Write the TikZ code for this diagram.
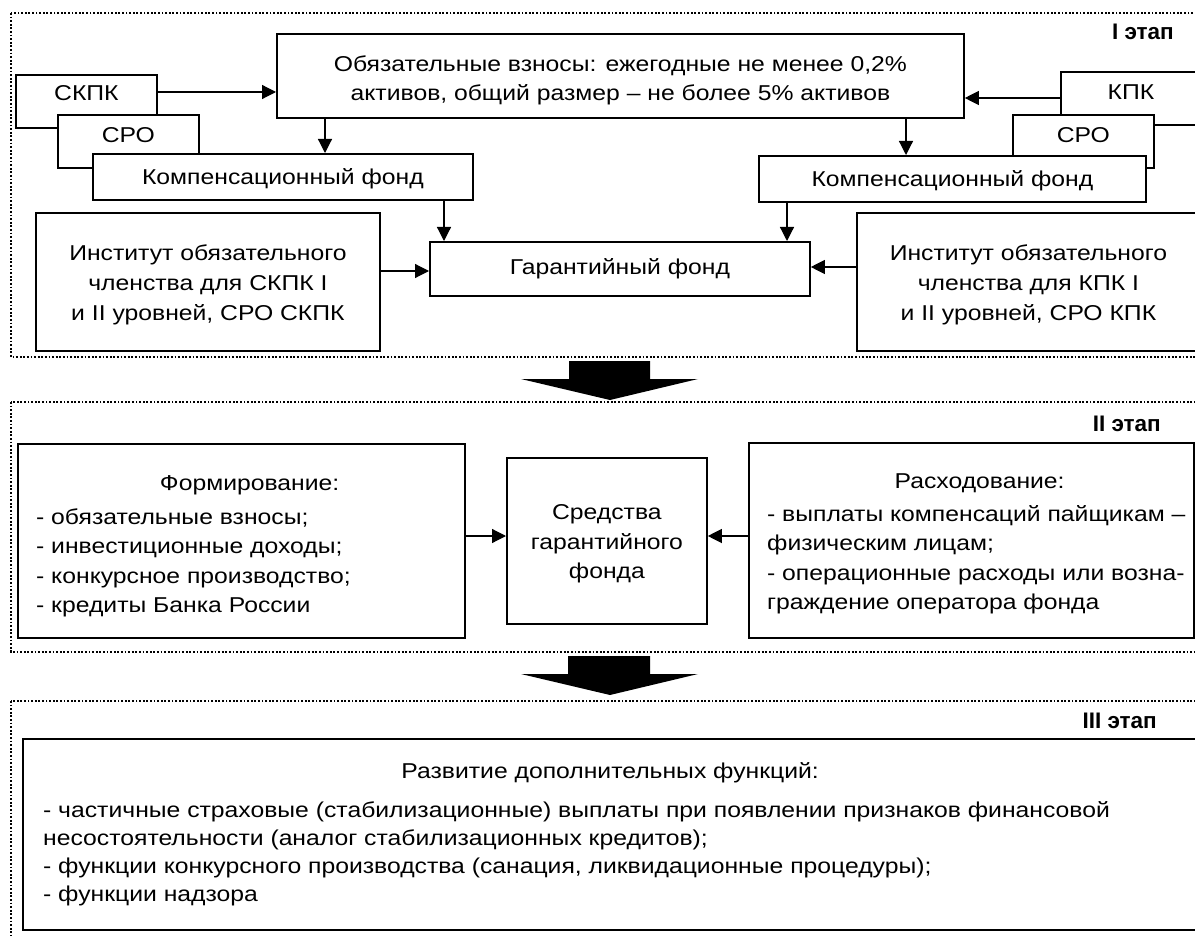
\documentclass[tikz,border=0pt]{standalone}
\usepackage{fontspec}
\setmainfont[FakeStretch=1.15]{Liberation Sans}
\newfontfamily\labelfont{Liberation Sans}
\usetikzlibrary{arrows.meta}
\newcommand{\tx}[2]{\raisebox{#1}[\height][\depth]{\begin{tabular}{@{}c@{}}#2\end{tabular}}}
\newcommand{\lx}[5]{\hspace*{#1}\raisebox{#3}[\height][\depth]{\begin{tabular}{@{}l@{}}#4\end{tabular}}\hspace*{#2}#5}
\tikzset{
  ebox/.style={draw, fill=white, line width=1.8pt, inner sep=0pt, anchor=north west,
    font=\fontsize{21.5}{29.5}\selectfont},
  bigbox/.style={ebox, line width=2.3pt},
  stageframe/.style={line width=1.8pt, dash pattern=on 1.8pt off 1.8pt},
  arr/.style={line width=1.2pt, -{Triangle[length=14pt,width=14pt]}},
  stage/.style={font=\labelfont\bfseries\fontsize{22.5}{24}\selectfont, inner sep=0pt, anchor=base east},
}
\begin{document}
\begin{tikzpicture}[x=1pt,y=-1pt]
\useasboundingbox (0,0) rectangle (1195,936);
\clip (0,0) rectangle (1195,936);
% stage frames
\draw[stageframe] (11,13) rectangle (1212,357);
\draw[stageframe] (11,402) rectangle (1212,652);
\draw[stageframe] (11,701) rectangle (1212,960);
\node[stage] (s1) at (1174,40) {I этап};
\node[stage] (s2) at (1161,431) {II этап};
\node[stage] (s3) at (1157,728) {III этап};
% ---------- stage I ----------
\node[ebox, minimum width=687pt, minimum height=84pt, font=\fontsize{21.5}{29}\selectfont] (obl) at (276,33)
  {\tx{-4.7pt}{Обязательные взносы: ежегодные не менее 0,2\%\\активов, общий размер – не более 5\% активов}};
\node[ebox, minimum width=141pt, minimum height=53pt] (skpk) at (15,74) {\tx{6.4pt}{СКПК}};
\node[ebox, minimum width=141pt, minimum height=53pt] (sroL) at (57,114) {\tx{4.4pt}{СРО}};
\node[ebox, minimum width=380pt, minimum height=46pt] (compL) at (92,153) {\tx{-2pt}{Компенсационный фонд}};
\node[ebox, minimum width=140pt, minimum height=53pt] (kpk) at (1060,71) {\tx{4.4pt}{КПК}};
\node[ebox, minimum width=141pt, minimum height=53pt] (sroR) at (1012,114) {\tx{4.4pt}{СРО}};
\node[ebox, minimum width=387pt, minimum height=46pt] (compR) at (758,155) {\tx{-2pt}{Компенсационный фонд}};
\node[ebox, minimum width=344pt, minimum height=138pt, font=\fontsize{21.5}{30}\selectfont] (instL) at (35,212)
  {\tx{-3pt}{Институт обязательного\\членства для СКПК I\\и II уровней, СРО СКПК}};
\node[ebox, minimum width=343pt, minimum height=138pt, font=\fontsize{21.5}{30}\selectfont] (instR) at (856,212)
  {\tx{-3pt}{Институт обязательного\\членства для КПК I\\и II уровней, СРО КПК}};
\node[ebox, minimum width=380pt, minimum height=54pt] (guar) at (429,241) {\tx{0pt}{Гарантийный фонд}};
\coordinate (ya) at (0,92);
\coordinate (yb) at (0,98);
\coordinate (xa) at (325,0);
\coordinate (xb) at (906,0);
\coordinate (xc) at (444,0);
\coordinate (xd) at (787,0);
\coordinate (yc) at (0,271);
\coordinate (yd) at (0,267);
\draw[arr] (skpk.east |- ya) -- (obl.west |- ya);
\draw[arr] (kpk.west |- yb) -- (obl.east |- yb);
\draw[arr] (obl.south -| xa) -- (compL.north -| xa);
\draw[arr] (obl.south -| xb) -- (compR.north -| xb);
\draw[arr] (compL.south -| xc) -- (guar.north -| xc);
\draw[arr] (compR.south -| xd) -- (guar.north -| xd);
\draw[arr] (instL.east |- yc) -- (guar.west |- yc);
\draw[arr] (instR.west |- yd) -- (guar.east |- yd);
% big arrows
\fill (569,361) -- (650,361) -- (650,379) -- (698,379) -- (610,400) -- (521,379) -- (569,379) -- cycle;
\fill (568,656) -- (650,656) -- (650,674) -- (698,674) -- (610,695) -- (521,674) -- (568,674) -- cycle;
% ---------- stage II ----------
\node[bigbox, minimum width=447pt, minimum height=194pt] (form) at (17,443)
  {\lx{18pt}{2pt}{-4.4pt}{\makebox[427pt][c]{Формирование:}\\[4.5pt]
   - обязательные взносы;\\- инвестиционные доходы;\\- конкурсное производство;\\- кредиты Банка России}{}};
\node[ebox, minimum width=200pt, minimum height=166pt] (sred) at (506,457)
  {\tx{-2.6pt}{Средства\\гарантийного\\фонда}};
\node[bigbox, minimum width=445pt, minimum height=195pt] (rash) at (748,442)
  {\lx{18pt}{2pt}{-2.4pt}{\makebox[425pt][c]{Расходование:}\\[3.5pt]
   - выплаты компенсаций пайщикам –\\физическим лицам;\\- операционные расходы или возна-\\граждение оператора фонда}{}};
\coordinate (ye) at (0,536);
\draw[arr] (form.east |- ye) -- (sred.west |- ye);
\draw[arr] (rash.west |- ye) -- (sred.east |- ye);
% ---------- stage III ----------
\node[bigbox, minimum width=1188pt, minimum height=191pt, font=\fontsize{21.5}{28}\selectfont] (dev) at (22,738)
  {\lx{20pt}{34pt}{0pt}{\makebox[1134pt][c]{Развитие дополнительных функций:}\\[11pt]
   - частичные страховые (стабилизационные) выплаты при появлении признаков финансовой\\
   несостоятельности (аналог стабилизационных кредитов);\\
   - функции конкурсного производства (санация, ликвидационные процедуры);\\
   - функции надзора}{}};
\end{tikzpicture}
\end{document}
